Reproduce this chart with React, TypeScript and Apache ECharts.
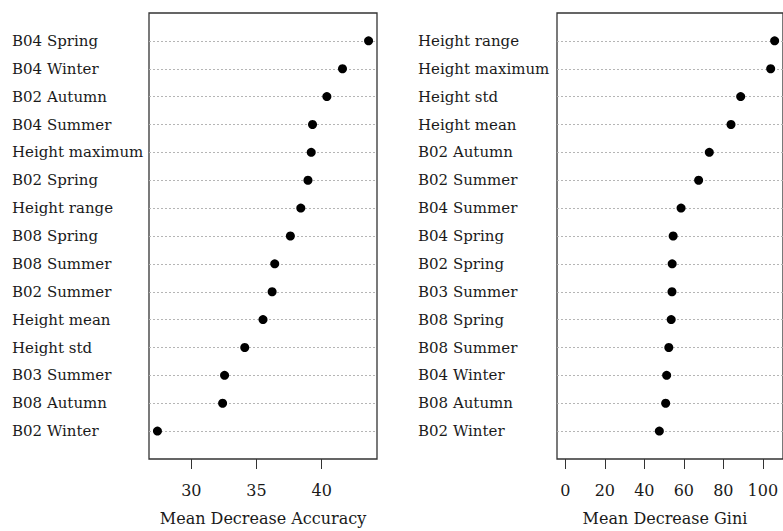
import React, { useEffect, useRef } from "react";
import * as echarts from "echarts";

// Left panel: Mean Decrease Accuracy (top to bottom)
const accLabels = [
  "B04 Spring", "B04 Winter", "B02 Autumn", "B04 Summer", "Height maximum",
  "B02 Spring", "Height range", "B08 Spring", "B08 Summer", "B02 Summer",
  "Height mean", "Height std", "B03 Summer", "B08 Autumn", "B02 Winter",
];
const accValues = [43.6, 41.6, 40.4, 39.3, 39.2, 38.95, 38.4, 37.6, 36.4, 36.2, 35.5, 34.1, 32.55, 32.4, 27.4];
const accTicks = [30, 35, 40];

// Right panel: Mean Decrease Gini (top to bottom)
const giniLabels = [
  "Height range", "Height maximum", "Height std", "Height mean", "B02 Autumn",
  "B02 Summer", "B04 Summer", "B04 Spring", "B02 Spring", "B03 Summer",
  "B08 Spring", "B08 Summer", "B04 Winter", "B08 Autumn", "B02 Winter",
];
const giniValues = [106.0, 104.0, 88.8, 83.9, 72.9, 67.5, 58.6, 54.6, 54.1, 54.0, 53.6, 52.4, 51.3, 50.8, 47.6];
const giniTicks = [0, 20, 40, 60, 80, 100];

const FONT = "DejaVu Serif";
const TEXT = "#1a1a1a";

function rangeExt(lo: number, hi: number) {
  const d = hi - lo;
  return [lo - 0.04 * d, hi + 0.04 * d];
}

export default function App() {
  const ref = useRef<HTMLDivElement>(null);
  useEffect(() => {
    if (!ref.current) return;
    const chart = echarts.init(ref.current, null, { renderer: "svg" });
    const [aMin, aMax] = rangeExt(Math.min(...accValues), Math.max(...accValues));
    const [gMin, gMax] = rangeExt(0, Math.max(...giniValues));
    const n = accLabels.length;

    const yAxisFor = (gridIndex: number, labels: string[], margin: number) => ({
      type: "value",
      gridIndex,
      min: 0,
      max: n + 1,
      interval: 1,
      inverse: true,
      axisLine: { show: false, onZero: false },
      axisTick: { show: false },
      axisLabel: {
        align: "left",
        margin,
        fontFamily: FONT,
        fontSize: 15,
        color: TEXT,
        formatter: (v: number) => labels[v - 1] ?? "",
      },
      splitLine: {
        show: true,
        showMinLine: false,
        showMaxLine: false,
        lineStyle: { color: "#b5b5b5", width: 1, type: [2, 2] },
      },
    });

    const xAxisFor = (gridIndex: number, min: number, max: number, ticks: number[], name: string, namePad: number[]) => ({
      type: "value",
      gridIndex,
      position: "bottom",
      min,
      max,
      axisLine: { show: false, onZero: false },
      splitLine: { show: false },
      axisTick: {
        show: true,
        inside: false,
        length: 10,
        customValues: ticks,
        lineStyle: { color: "#333", width: 1 },
      },
      axisLabel: {
        customValues: ticks,
        margin: 23,
        fontFamily: FONT,
        fontSize: 16,
        color: TEXT,
      },
      name,
      nameLocation: "middle",
      nameGap: 51,
      nameTextStyle: { fontFamily: FONT, fontSize: 16, color: TEXT, padding: namePad },
    });

    chart.setOption({
      animation: false,
      backgroundColor: "#fff",
      grid: [
        { left: 149, top: 13, width: 228, height: 449, show: true, borderColor: "#333", borderWidth: 1.3, backgroundColor: "transparent" },
        { left: 557, top: 13, width: 227, height: 449, show: true, borderColor: "#333", borderWidth: 1.3, backgroundColor: "transparent" },
      ],
      xAxis: [
        xAxisFor(0, aMin, aMax, accTicks, "Mean Decrease Accuracy", [0, 0, 0, 0]),
        xAxisFor(1, gMin, gMax, giniTicks, "Mean Decrease Gini", [0, 10, 0, 0]),
      ],
      yAxis: [yAxisFor(0, accLabels, 137), yAxisFor(1, giniLabels, 139)],
      series: [
        {
          type: "scatter",
          xAxisIndex: 0,
          yAxisIndex: 0,
          symbol: "circle",
          symbolSize: 9,
          itemStyle: { color: "#000", opacity: 1 },
          data: accValues.map((v, i) => [v, i + 1]),
        },
        {
          type: "scatter",
          xAxisIndex: 1,
          yAxisIndex: 1,
          symbol: "circle",
          symbolSize: 9,
          itemStyle: { color: "#000", opacity: 1 },
          data: giniValues.map((v, i) => [v, i + 1]),
        },
      ],
    });
    return () => chart.dispose();
  }, []);
  return (
    <div
      ref={ref}
      style={{ position: "absolute", left: 0, top: 0, width: 783, height: 531, background: "#fff" }}
    />
  );
}
